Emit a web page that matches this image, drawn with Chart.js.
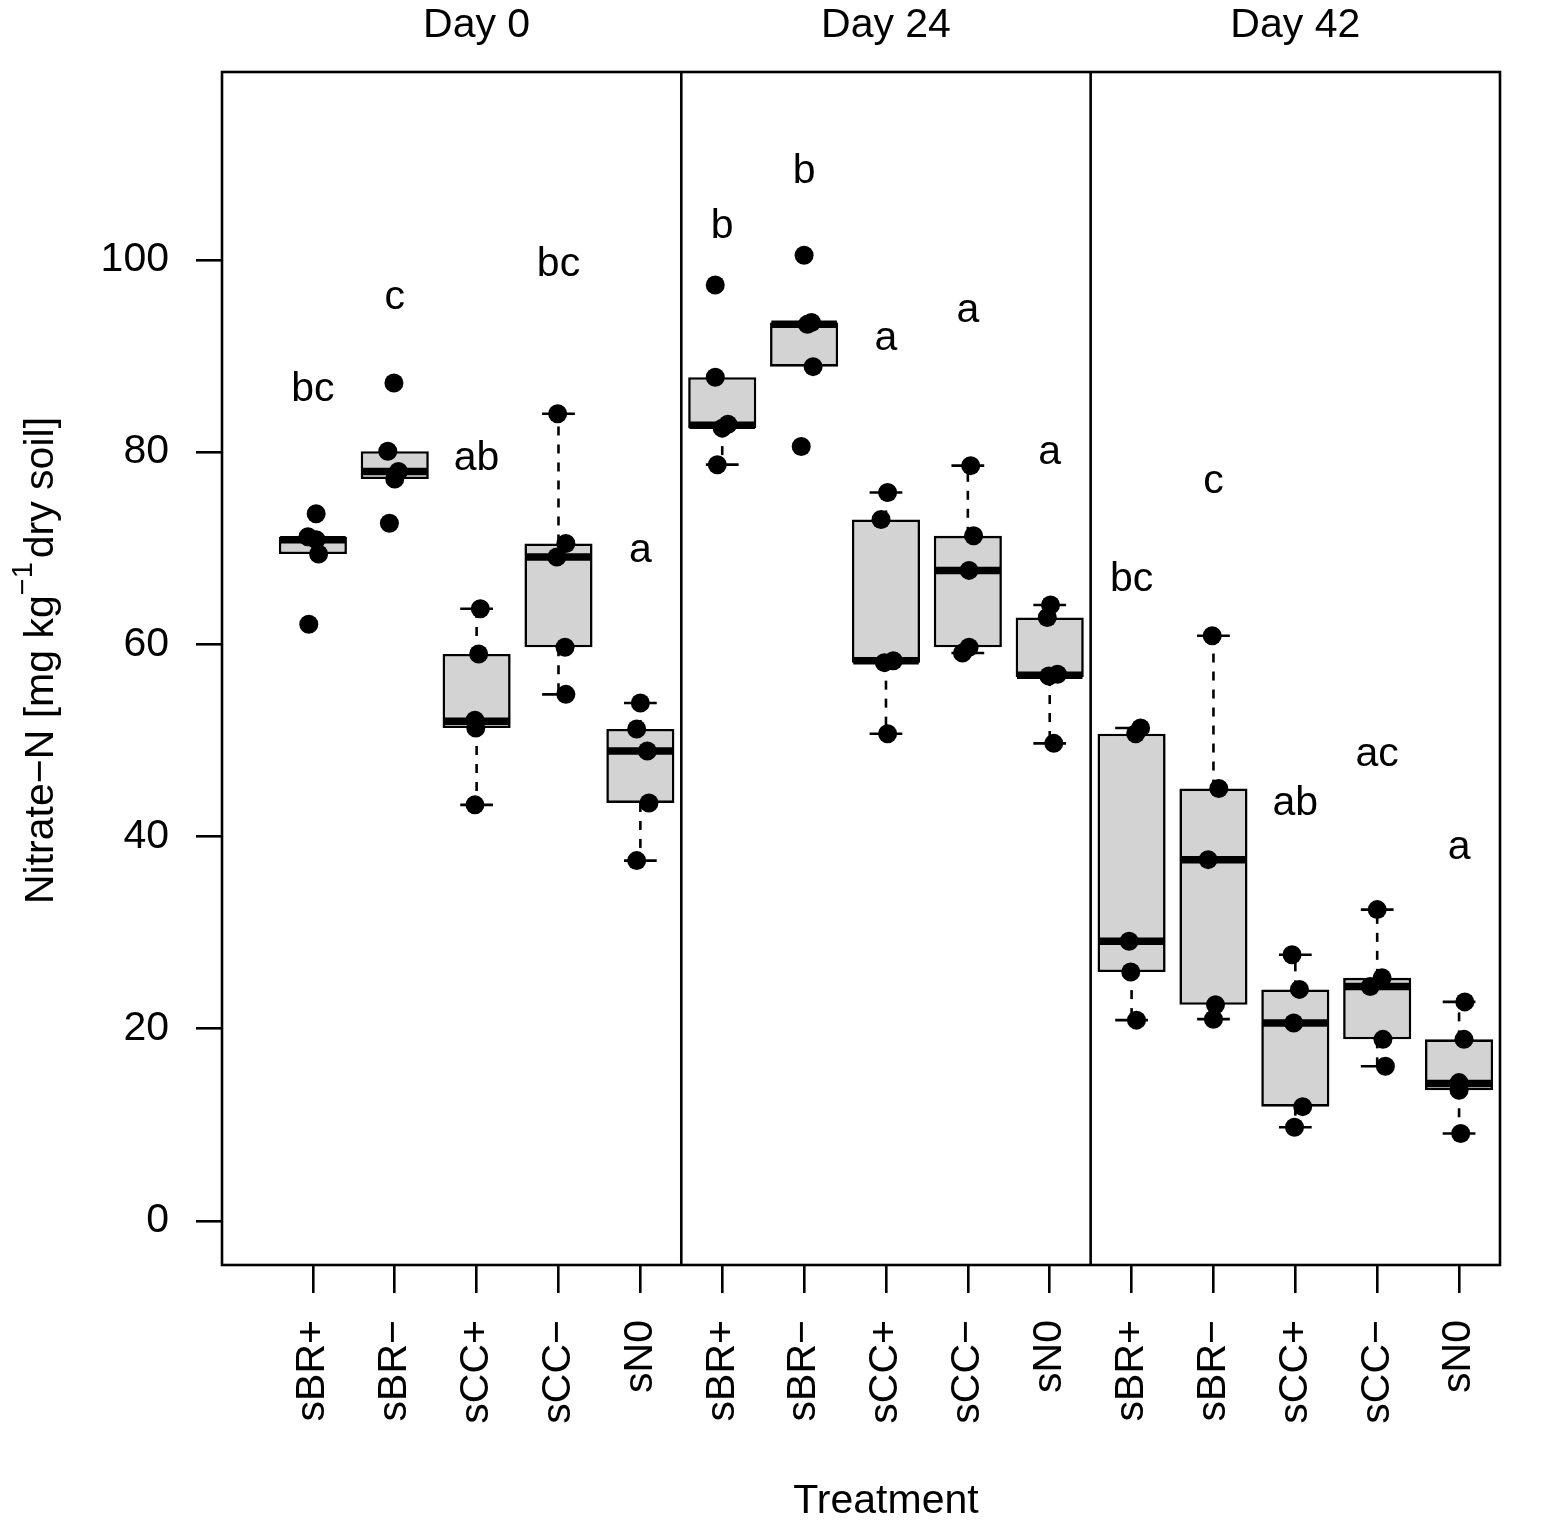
<!DOCTYPE html>
<html>
<head>
<meta charset="utf-8">
<script src="https://cdn.jsdelivr.net/npm/chart.js@4/dist/chart.umd.min.js"></script>
<style>
  html, body { margin: 0; padding: 0; background: #ffffff; }
  canvas { display: block; }
</style>
</head>
<body>
<canvas id="chart" width="1559" height="1523"></canvas>
<script>
// ---------------- data ----------------
const treatments = ['sBR+', 'sBR−', 'sCC+', 'sCC−', 'sN0'];
const days = ['Day 0', 'Day 24', 'Day 42'];
const categories = days.flatMap(() => treatments);

const whiskerLow  = [69.4, 77.2, 43.3, 54.8, 37.5, 78.7, 88.9, 50.7, 59.1, 49.7, 20.9, 21.0, 9.75, 16.1, 9.1];
const q1          = [69.4, 77.2, 51.3, 59.7, 43.5, 82.5, 88.9, 58.1, 59.7, 56.6, 25.9, 22.5, 11.9, 18.9, 13.6];
const medians     = [70.9, 78.0, 52.0, 69.1, 48.9, 82.8, 93.3, 58.3, 67.7, 56.8, 29.1, 37.6, 20.6, 24.4, 14.3];
const q3          = [71.2, 80.1, 59.0, 70.5, 51.2, 87.8, 93.5, 73.0, 71.3, 62.8, 50.7, 45.0, 24.1, 25.3, 18.9];
const whiskerHigh = [71.2, 80.1, 63.7, 84.0, 53.9, 87.8, 93.5, 75.8, 78.6, 64.1, 51.3, 60.9, 27.7, 32.4, 22.8];

const observations = [
  [73.6, 71.2, 70.9, 69.4, 62.1],
  [87.2, 80.1, 78.0, 77.2, 72.6],
  [63.7, 59.0, 52.1, 51.3, 43.3],
  [84.0, 70.5, 69.1, 59.7, 54.8],
  [53.9, 51.2, 48.9, 43.5, 37.5],
  [97.4, 87.8, 82.9, 82.5, 78.7],
  [100.5, 93.5, 93.3, 88.9, 80.6],
  [75.8, 73.0, 58.3, 58.1, 50.7],
  [78.6, 71.3, 67.7, 59.7, 59.1],
  [64.1, 62.8, 56.9, 56.7, 49.7],
  [51.3, 50.7, 29.1, 25.9, 20.9],
  [60.9, 45.0, 37.6, 22.5, 21.0],
  [27.7, 24.1, 20.6, 11.9, 9.75],
  [32.4, 25.3, 24.4, 18.9, 16.1],
  [22.8, 18.9, 14.4, 13.6, 9.1]
];
const jitter = [
  [0.04, -0.06, 0.04, 0.07, -0.05],
  [-0.01, -0.085, 0.045, 0.0, -0.065],
  [0.045, 0.025, -0.02, -0.01, -0.02],
  [-0.01, 0.09, -0.02, 0.08, 0.09],
  [0.0, -0.045, 0.085, 0.105, -0.045],
  [-0.085, -0.085, 0.07, 0.0, -0.06],
  [0.0, 0.09, 0.04, 0.11, -0.035],
  [0.02, -0.06, 0.09, -0.02, 0.02],
  [0.035, 0.07, 0.015, 0.015, -0.065],
  [0.01, -0.03, 0.095, -0.01, 0.05],
  [0.11, 0.05, -0.03, -0.01, 0.06],
  [-0.015, 0.065, -0.065, 0.025, 0.0],
  [-0.04, 0.05, -0.02, 0.09, -0.01],
  [0.0, 0.06, -0.085, 0.07, 0.1],
  [0.07, 0.06, 0.0, 0.0, 0.02]
];

const letters = ['bc', 'c', 'ab', 'bc', 'a', 'b', 'b', 'a', 'a', 'a', 'bc', 'c', 'ab', 'ac', 'a'];
const letterY = [85.3, 94.9, 78.1, 98.3, 68.6, 102.3, 108.0, 90.6, 93.5, 78.8, 65.6, 75.8, 42.2, 47.3, 37.7];

const yTicks = [0, 20, 40, 60, 80, 100];
const yTitleMain = 'Nitrate−N [mg kg';
const yTitleSup = '−1';
const yTitleEnd = 'dry soil]';
const xTitle = 'Treatment';

// ---------------- styling ----------------
const FONT = '"Liberation Sans", Arial, Helvetica, sans-serif';
const FS = 41;
const LW = 2.6;
const BOX_WEX = 0.8;

const pointData = [];
observations.forEach((vals, i) => {
  vals.forEach((v, k) => pointData.push({ x: i + 1 + jitter[i][k], y: v }));
});
const boxData = categories.map((_, i) => ({ x: i + 1, y: [q1[i], q3[i]] }));

function seg(ctx, x1, y1, x2, y2) {
  ctx.beginPath(); ctx.moveTo(x1, y1); ctx.lineTo(x2, y2); ctx.stroke();
}

const boxExtras = {
  id: 'boxExtras',
  afterDatasetDraw(chart, args) {
    if (args.meta.type !== 'bar') return;
    const { ctx, scales: { x, y } } = chart;
    ctx.save();
    ctx.strokeStyle = '#000';
    ctx.lineCap = 'butt';
    categories.forEach((_, i) => {
      const xc = x.getPixelForValue(i + 1);
      const half = x.getPixelForValue(i + 1 + BOX_WEX / 2) - xc;
      ctx.lineWidth = LW;
      ctx.setLineDash([9, 9]);
      if (whiskerHigh[i] > q3[i]) seg(ctx, xc, y.getPixelForValue(q3[i]), xc, y.getPixelForValue(whiskerHigh[i]));
      if (whiskerLow[i] < q1[i]) seg(ctx, xc, y.getPixelForValue(q1[i]), xc, y.getPixelForValue(whiskerLow[i]));
      ctx.setLineDash([]);
      if (whiskerHigh[i] > q3[i]) { const yy = y.getPixelForValue(whiskerHigh[i]); seg(ctx, xc - half / 2, yy, xc + half / 2, yy); }
      if (whiskerLow[i] < q1[i]) { const yy = y.getPixelForValue(whiskerLow[i]); seg(ctx, xc - half / 2, yy, xc + half / 2, yy); }
      ctx.lineWidth = 7.5;
      const ym = y.getPixelForValue(medians[i]);
      seg(ctx, xc - half, ym, xc + half, ym);
    });
    ctx.restore();
  },
  afterDraw(chart) {
    const { ctx, chartArea: a, scales: { x, y } } = chart;
    ctx.save();
    ctx.strokeStyle = '#000';
    ctx.lineWidth = LW;
    ctx.strokeRect(a.left, a.top, a.right - a.left, a.bottom - a.top);
    // panel dividers
    for (let d = 1; d < days.length; d++) {
      const xp = x.getPixelForValue(d * treatments.length + 0.5);
      seg(ctx, xp, a.top, xp, a.bottom);
    }
    ctx.fillStyle = '#000';
    ctx.font = `${FS}px ${FONT}`;
    ctx.textAlign = 'center';
    ctx.textBaseline = 'alphabetic';
    // significance letters
    letters.forEach((t, i) => ctx.fillText(t, x.getPixelForValue(i + 1), y.getPixelForValue(letterY[i])));
    // panel titles
    const mid = Math.ceil(treatments.length / 2);
    days.forEach((t, d) => ctx.fillText(t, x.getPixelForValue(d * treatments.length + mid), 37));
    // x title
    ctx.fillText(xTitle, x.getPixelForValue(treatments.length + mid), 1513);
    // y title with superscript
    ctx.translate(53, (a.top + a.bottom) / 2 - 8);
    ctx.rotate(-Math.PI / 2);
    ctx.textAlign = 'left';
    const f1 = `${FS}px ${FONT}`, f2 = `${Math.round(FS * 0.7)}px ${FONT}`;
    ctx.font = f1;
    const w1 = ctx.measureText(yTitleMain).width, w3 = ctx.measureText(yTitleEnd).width;
    ctx.font = f2;
    const w2 = ctx.measureText(yTitleSup).width;
    const gap = 4;
    let px = -(w1 + w2 + gap + w3) / 2;
    ctx.font = f1; ctx.fillText(yTitleMain, px, 0); px += w1;
    ctx.font = f2; ctx.fillText(yTitleSup, px, -21); px += w2 + gap;
    ctx.font = f1; ctx.fillText(yTitleEnd, px, 0);
    ctx.restore();
  }
};

new Chart(document.getElementById('chart'), {
  type: 'scatter',
  data: {
    datasets: [
      {
        type: 'scatter',
        data: pointData,
        pointRadius: 9.5,
        pointHoverRadius: 9.5,
        pointBackgroundColor: '#000',
        pointBorderWidth: 0,
        order: 0
      },
      {
        type: 'bar',
        data: boxData,
        backgroundColor: '#D3D3D3',
        borderColor: '#000',
        borderWidth: LW,
        borderSkipped: false,
        barPercentage: 0.832,
        categoryPercentage: 1.0,
        order: 1
      }
    ]
  },
  options: {
    responsive: false,
    animation: false,
    devicePixelRatio: 1,
    events: [],
    layout: { padding: { left: 0, top: 72, right: 59, bottom: 0 } },
    plugins: { legend: { display: false }, tooltip: { enabled: false } },
    scales: {
      x: {
        type: 'linear',
        min: -0.11,
        max: 15.5,
        offset: false,
        afterBuildTicks: s => { s.ticks = categories.map((_, i) => ({ value: i + 1 })); },
        afterFit: s => { s.height = 258; },
        border: { display: false },
        grid: { drawOnChartArea: false, drawTicks: true, tickLength: 28, color: '#000', lineWidth: LW, offset: false },
        ticks: {
          autoSkip: false,
          minRotation: 90,
          maxRotation: 90,
          padding: 27,
          color: '#000',
          font: { family: FONT, size: FS },
          callback: (v) => categories[Math.round(v) - 1]
        }
      },
      y: {
        type: 'linear',
        min: -4.58,
        max: 119.56,
        afterBuildTicks: s => { s.ticks = yTicks.map(v => ({ value: v })); },
        afterFit: s => { s.width = 222; },
        border: { display: false },
        grid: { drawOnChartArea: false, drawTicks: true, tickLength: 26, color: '#000', lineWidth: LW },
        ticks: {
          padding: 27,
          color: '#000',
          font: { family: FONT, size: FS },
          callback: v => String(v)
        }
      }
    }
  },
  plugins: [boxExtras]
});
</script>
</body>
</html>
